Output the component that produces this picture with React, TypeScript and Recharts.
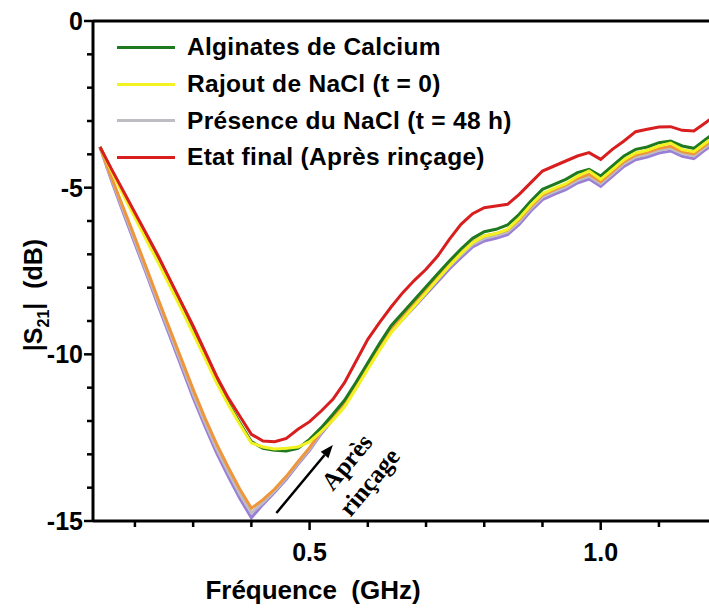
import { LineChart, Line, XAxis, YAxis, ReferenceLine, Label } from 'recharts';

const FREQ = [
  0.14, 0.16, 0.18, 0.2, 0.22, 0.24, 0.26, 0.28, 0.3, 0.32, 0.34, 0.36, 0.38, 0.4, 0.42, 0.44, 0.46, 0.48,
  0.5, 0.52, 0.54, 0.56, 0.58, 0.6, 0.62, 0.64, 0.66, 0.68, 0.7, 0.72, 0.74, 0.76, 0.78, 0.8, 0.82, 0.84,
  0.86, 0.88, 0.9, 0.92, 0.94, 0.96, 0.98, 1.0, 1.02, 1.04, 1.06, 1.08, 1.1, 1.12, 1.14, 1.16, 1.18, 1.2,
];

// Alginates de Calcium
const ALGINATE = [
  -3.78, -4.48, -5.15, -5.8, -6.45, -7.1, -7.82, -8.52, -9.25, -10.0, -10.78, -11.45, -12.05, -12.62, -12.82, -12.88, -12.9, -12.82,
  -12.55, -12.2, -11.8, -11.38, -10.83, -10.25, -9.68, -9.14, -8.75, -8.36, -7.97, -7.58, -7.2, -6.84, -6.52, -6.32, -6.25, -6.12,
  -5.8, -5.4, -5.05, -4.9, -4.75, -4.55, -4.45, -4.65, -4.35, -4.05, -3.85, -3.78, -3.65, -3.6, -3.75, -3.82, -3.55, -3.3,
];

// Rajout de NaCl (t = 0)
const RAJOUT = [
  -3.78, -4.52, -5.22, -5.9, -6.58, -7.25, -7.95, -8.65, -9.38, -10.1, -10.85, -11.5, -12.1, -12.66, -12.78, -12.84, -12.82, -12.78,
  -12.62, -12.32, -11.98, -11.58, -11.02, -10.45, -9.88, -9.35, -8.95, -8.55, -8.15, -7.75, -7.35, -6.98, -6.65, -6.45, -6.38, -6.25,
  -5.92, -5.52, -5.18, -5.02, -4.88, -4.66, -4.5, -4.75, -4.46, -4.16, -3.96, -3.88, -3.75, -3.66, -3.86, -3.92, -3.66, -3.42,
];

// Présence du NaCl (t = 48 h)
const PRESENCE = [
  -3.78, -4.75, -5.68, -6.6, -7.52, -8.45, -9.36, -10.27, -11.18, -12.03, -12.82, -13.52, -14.18, -14.76, -14.44, -14.1, -13.7, -13.26,
  -12.84, -12.34, -11.92, -11.48, -10.95, -10.36, -9.78, -9.26, -8.88, -8.5, -8.12, -7.74, -7.36, -7.02, -6.7, -6.52, -6.44, -6.33,
  -6.02, -5.62, -5.28, -5.12, -4.98, -4.78, -4.66, -4.88, -4.58, -4.28, -4.08, -4.0, -3.88, -3.82, -3.98, -4.05, -3.78, -3.54,
];

// Etat final (Après rinçage)
const FINAL = [
  -3.78, -4.45, -5.1, -5.75, -6.4, -7.05, -7.75, -8.45, -9.15, -9.9, -10.65, -11.3, -11.85, -12.4, -12.6, -12.62, -12.52, -12.25,
  -12.02, -11.7, -11.35, -10.85, -10.2, -9.55, -9.05, -8.58, -8.15, -7.78, -7.45, -7.05, -6.55, -6.1, -5.78, -5.6, -5.55, -5.5,
  -5.2, -4.85, -4.5, -4.35, -4.2, -4.05, -3.95, -4.15, -3.85, -3.6, -3.32, -3.25, -3.18, -3.17, -3.28, -3.3, -3.05, -2.8,
];

// extra runs drawn without legend entry
const RUN_ORANGE = [
  -3.78, -4.7, -5.6, -6.5, -7.42, -8.35, -9.25, -10.15, -11.05, -11.9, -12.68, -13.38, -14.04, -14.62, -14.36, -14.04, -13.66, -13.22,
  -12.8, -12.3, -11.88, -11.45, -10.92, -10.33, -9.75, -9.22, -8.84, -8.45, -8.06, -7.68, -7.3, -6.95, -6.64, -6.45, -6.38, -6.27,
  -5.95, -5.56, -5.22, -5.06, -4.92, -4.72, -4.6, -4.82, -4.52, -4.22, -4.02, -3.94, -3.82, -3.76, -3.92, -3.99, -3.72, -3.48,
];

const RUN_PURPLE = [
  -3.78, -4.8, -5.75, -6.68, -7.6, -8.54, -9.46, -10.38, -11.3, -12.15, -12.95, -13.65, -14.32, -14.9, -14.5, -14.14, -13.75, -13.3,
  -12.88, -12.38, -11.96, -11.52, -11.0, -10.42, -9.85, -9.33, -8.95, -8.58, -8.2, -7.82, -7.44, -7.1, -6.78, -6.6, -6.52, -6.41,
  -6.1, -5.7, -5.36, -5.2, -5.06, -4.86, -4.74, -4.96, -4.66, -4.36, -4.16, -4.08, -3.96, -3.9, -4.06, -4.13, -3.86, -3.62,
];

const X_TICKS = [0.2, 0.3, 0.4, 0.5, 0.6, 0.7, 0.8, 0.9, 1.0, 1.1];
const X_LABELED = [0.5, 1.0];
const Y_TICKS = [-15, -14, -13, -12, -11, -10, -9, -8, -7, -6, -5, -4, -3, -2, -1, 0];
const Y_LABELED = [-15, -10, -5, 0];

const data = FREQ.map((f, i) => ({
  f,
  alginate: ALGINATE[i],
  rajout: RAJOUT[i],
  presence: PRESENCE[i],
  final: FINAL[i],
  orange: RUN_ORANGE[i],
  purple: RUN_PURPLE[i],
}));

const series = [
  { key: 'purple', name: '', color: '#9b7fd6', legend: false },
  { key: 'presence', name: 'Présence du NaCl (t = 48 h)', color: '#bdbdc4', legend: true },
  { key: 'orange', name: '', color: '#f0963a', legend: false },
  { key: 'alginate', name: 'Alginates de Calcium', color: '#1f7a1f', legend: true },
  { key: 'rajout', name: 'Rajout de NaCl (t = 0)', color: '#f2f222', legend: true },
  { key: 'final', name: 'Etat final (Après rinçage)', color: '#d81e1e', legend: true },
];
const legendOrder = ['alginate', 'rajout', 'presence', 'final'];

const SANS = '"Liberation Sans", Arial, sans-serif';
const SERIF = '"Liberation Serif", "Times New Roman", serif';

const XTick = ({ x, y, payload }: any) => {
  const major = X_LABELED.includes(payload.value);
  return (
    <g>
      <line x1={x} x2={x} y1={y} y2={y + (major ? 9 : 6)} stroke="#000" strokeWidth={2.5} />
      {major && (
        <text x={x} y={y + 40} textAnchor="middle" fontSize={25} fontWeight="bold" fontFamily={SANS} fill="#000">
          {payload.value.toFixed(1)}
        </text>
      )}
    </g>
  );
};

const YTick = ({ x, y, payload }: any) => {
  const major = Y_LABELED.includes(payload.value);
  return (
    <g>
      <line x1={x} x2={x - (major ? 9 : 6)} y1={y} y2={y} stroke="#000" strokeWidth={2.5} />
      {major && (
        <text x={x - 10} y={y + 9} textAnchor="end" fontSize={25} fontWeight="bold" fontFamily={SANS} fill="#000">
          {payload.value}
        </text>
      )}
    </g>
  );
};

const YTitle = ({ viewBox }: any) => {
  const cx = 42;
  const cy = viewBox.y + viewBox.height / 2 + 24;
  return (
    <text
      transform={`translate(${cx},${cy}) rotate(-90)`}
      textAnchor="middle"
      fontSize={25}
      fontWeight="bold"
      fontFamily={SANS}
      fill="#000"
      style={{ whiteSpace: 'pre' }}
    >
      |S<tspan fontSize={16} dy={7}>21</tspan><tspan dy={-7}>|  (dB)</tspan>
    </text>
  );
};

const XTitle = ({ viewBox }: any) => (
  <text
    x={313}
    y={viewBox.y + 78}
    textAnchor="middle"
    fontSize={26}
    fontWeight="bold"
    fontFamily={SANS}
    fill="#000"
    style={{ whiteSpace: 'pre' }}
  >
    Fréquence  (GHz)
  </text>
);

const ArrowNote = (p: any) => {
  const { x1, y1, x2, y2 } = p;
  const dx = x2 - x1;
  const dy = y2 - y1;
  const len = Math.hypot(dx, dy);
  const ux = dx / len;
  const uy = dy / len;
  const nx = -uy;
  const ny = ux;
  const hx = x2 - ux * 13;
  const hy = y2 - uy * 13;
  const ang = (Math.atan2(dy, dx) * 180) / Math.PI;
  const mx = (x1 + x2) / 2;
  const my = (y1 + y2) / 2;
  const t1 = { x: mx + ux * 40 + nx * 30, y: my + uy * 40 + ny * 30 };
  const t2 = { x: mx + ux * 39 + nx * 60, y: my + uy * 39 + ny * 60 };
  return (
    <g>
      <line x1={x1} y1={y1} x2={hx} y2={hy} stroke="#000" strokeWidth={2.5} />
      <polygon
        points={`${x2},${y2} ${hx + nx * 5},${hy + ny * 5} ${hx - nx * 5},${hy - ny * 5}`}
        fill="#000"
      />
      <text transform={`translate(${t1.x},${t1.y}) rotate(${ang})`} textAnchor="middle" fontSize={25} fontWeight="bold" fontFamily={SERIF} fill="#000">
        Après
      </text>
      <text transform={`translate(${t2.x},${t2.y}) rotate(${ang})`} textAnchor="middle" fontSize={25} fontWeight="bold" fontFamily={SERIF} fill="#000">
        rinçage
      </text>
    </g>
  );
};

const ChartLegend = () => (
  <div style={{ position: 'absolute', left: 117, top: 29, fontFamily: SANS, fontWeight: 'bold', fontSize: 24.5 }}>
    {legendOrder.map((k) => {
      const s = series.find((d) => d.key === k)!;
      return (
        <div key={k} style={{ display: 'flex', alignItems: 'center', height: 36.7 }}>
          <div style={{ width: 58, height: 3, background: s.color, marginRight: 12 }} />
          <span style={{ letterSpacing: 0.3, whiteSpace: 'pre' }}>{s.name}</span>
        </div>
      );
    })}
  </div>
);

export default function App() {
  return (
    <div style={{ position: 'absolute', left: 0, top: 0, width: 709, height: 610, background: '#fff' }}>
      <LineChart width={709} height={610} data={data} margin={{ top: 21, right: 0, bottom: 0, left: 0 }}>
        <XAxis
          dataKey="f"
          type="number"
          domain={[0.128, 1.186]}
          allowDataOverflow
          ticks={X_TICKS}
          interval={0}
          height={89}
          tickSize={0}
          tickMargin={0}
          tickLine={false}
          tick={<XTick />}
          axisLine={{ stroke: '#000', strokeWidth: 3 }}
        >
          <Label content={<XTitle />} />
        </XAxis>
        <YAxis
          type="number"
          domain={[-15, 0]}
          ticks={Y_TICKS}
          interval={0}
          width={93}
          tickSize={0}
          tickMargin={0}
          tickLine={false}
          tick={<YTick />}
          axisLine={{ stroke: '#000', strokeWidth: 3 }}
        >
          <Label content={<YTitle />} />
        </YAxis>
        <ReferenceLine y={0} stroke="#000" strokeWidth={3} />
        {series.map((s) => (
          <Line
            key={s.key}
            dataKey={s.key}
            name={s.name}
            type="linear"
            stroke={s.color}
            strokeWidth={3}
            dot={false}
            activeDot={false}
            isAnimationActive={false}
          />
        ))}
        <ReferenceLine
          segment={[
            { x: 0.443, y: -14.76 },
            { x: 0.54, y: -12.72 },
          ]}
          shape={<ArrowNote />}
        />
      </LineChart>
      <ChartLegend />
    </div>
  );
}
